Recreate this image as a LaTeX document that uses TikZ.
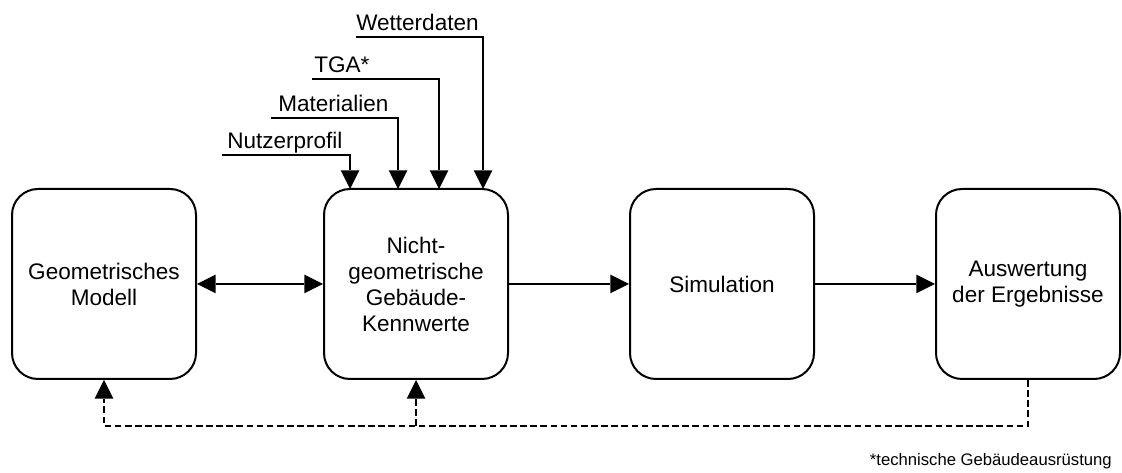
\documentclass[tikz,border=0pt]{standalone}
\usepackage{fontspec}
\setmainfont{Liberation Sans}
\usetikzlibrary{arrows.meta}
\begin{document}
\begin{tikzpicture}[x=0.75pt,y=-0.75pt,
  stage/.style={draw, line width=1.5pt, rounded corners=19.5pt,
    minimum width=138pt, minimum height=142.5pt, inner sep=0pt,
    align=center, font=\fontsize{16.9}{19.5}\selectfont},
  lbl/.style={inner sep=0pt, anchor=base west, font=\fontsize{16.9}{19.5}\selectfont},
  tip/.style={-{Triangle[length=14pt,width=14pt,line width=0pt]}},
  flow/.style={line width=1.5pt, tip},
  both/.style={line width=1.5pt, {Triangle[length=14pt,width=14pt,line width=0pt]}-{Triangle[length=14pt,width=14pt,line width=0pt]}},
  feed/.style={line width=1.5pt, dash pattern=on 5pt off 2.6pt}]
\useasboundingbox (0,0) rectangle (1122,473);

% process stages
\node[stage] (b1) at (104,284) {Geometrisches\\Modell};
\node[stage] (b2) at (416,284) {Nicht-\\geometrische\\Gebäude-\\Kennwerte};
\node[stage] (b3) at (722,284) {Simulation};
\node[stage] (b4) at (1028,284) {Auswertung\\der Ergebnisse};

% main flow
\draw[both] (b1) -- (b2);
\draw[flow] (b2) -- (b3);
\draw[flow] (b3) -- (b4);

% input data feeding the characteristic values
\node[lbl] (lN) at (227,149) {Nutzerprofil};
\node[lbl] (lM) at (278,112) {Materialien};
\node[lbl] (lT) at (314,73) {TGA*};
\node[lbl] (lW) at (356,31) {Wetterdaten};
\coordinate (sN) at (222,155);
\coordinate (sM) at (271,118);
\coordinate (sT) at (312,79);
\coordinate (sW) at (356,37);
\coordinate (eN) at (350,189);
\coordinate (eM) at (398,189);
\coordinate (eT) at (439,189);
\coordinate (eW) at (483,189);
\draw[flow] (sN) -| (eN);
\draw[flow] (sM) -| (eM);
\draw[flow] (sT) -| (eT);
\draw[flow] (sW) -| (eW);

% feedback from the evaluation
\coordinate (fb) at (0,426);
\draw[feed, tip] (b4.south) |- (b1.south |- fb) -- (b1.south);
\draw[feed, tip] (b2.south |- fb) -- (b2.south);

% footnote
\node[inner sep=0pt, anchor=base east, font=\fontsize{12.5}{15}\selectfont] (note) at (1112,466) {*technische Gebäudeausrüstung};
\end{tikzpicture}
\end{document}
